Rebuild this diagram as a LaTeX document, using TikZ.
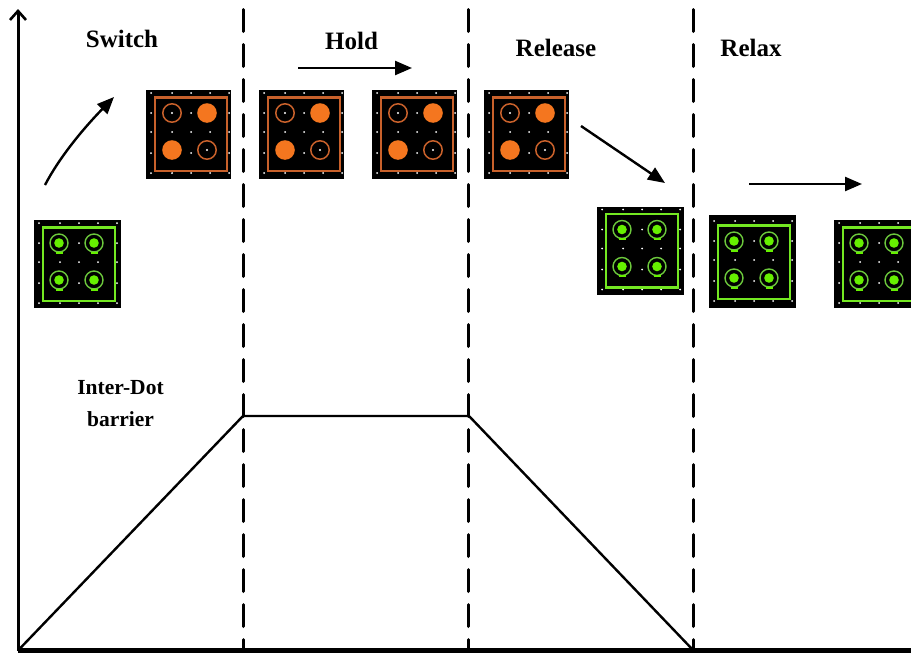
\documentclass[tikz,border=0pt]{standalone}
\usepackage{fontspec}
\setmainfont{Liberation Serif}
\usetikzlibrary{arrows.meta,calc}
\definecolor{dotorange}{HTML}{F4761F}
\definecolor{frameorange}{HTML}{C9612B}
\definecolor{dotgreen}{HTML}{66F000}
\definecolor{framegreen}{HTML}{74E822}
\definecolor{ringgreen}{HTML}{6CC83C}
\tikzset{
  axisline/.style={line width=3pt,black},
  baseline axis/.style={line width=4.6pt,black},
  barrier/.style={line width=2.4pt,black},
  divider/.style={line width=3pt,black,line cap=round,dash pattern=on 22pt off 13pt},
  flow/.style={line width=2.4pt,black,-{Triangle[length=17pt,width=14pt]}},
  title/.style={font=\bfseries\fontsize{25}{30}\selectfont,inner sep=0pt},
  smalltitle/.style={font=\bfseries\fontsize{21.5}{32}\selectfont,inner sep=0pt,align=center},
  chipbg/.style={fill=black,draw=none,inner sep=0pt,anchor=north west}
}
\newcommand{\chipbase}[6]{%
  \node[chipbg,minimum width=#4pt,minimum height=#5pt] (#1) at (#2,#3) {};
  \foreach \gx/\gy in {5/3,26/3,45/3,64/3,83/3, 5/23,45/23,83/23,
      5/42,26/42,45/42,64/42,83/42, 5/63,45/63,83/63, 5/83,26/83,45/83,64/83,83/83}{
    \fill[white] (#2+\gx,#3+\gy) circle (1pt);}
  \draw[#6,line width=2.4pt] (#2+9,#3+7.5) rectangle (#2+81,#3+81);
}
\newcommand{\openorange}[2]{\draw[frameorange,line width=1.5pt] (#1,#2) circle (9.2pt);
  \fill[white] (#1,#2) circle (1.2pt);}
\newcommand{\fullorange}[2]{\fill[dotorange] (#1,#2) circle (9.8pt);}
\newcommand{\greendot}[2]{\draw[ringgreen,line width=1.4pt] (#1,#2) circle (9pt);
  \fill[dotgreen] (#1,#2) circle (4.8pt);
  \draw[dotgreen,line width=2pt] (#1-3.5,#2+9.8) -- (#1+3.5,#2+9.8);}
\newcommand{\orangechip}[3]{%
  \chipbase{#1}{#2}{#3}{85}{89}{frameorange}
  \openorange{#2+26}{#3+23}\fullorange{#2+61}{#3+23}
  \fullorange{#2+26}{#3+60}\openorange{#2+61}{#3+60}}
\newcommand{\greenchip}[3]{%
  \chipbase{#1}{#2}{#3}{87}{88}{framegreen}
  \greendot{#2+25}{#3+23}\greendot{#2+60}{#3+23}
  \greendot{#2+25}{#3+60}\greendot{#2+60}{#3+60}}
\begin{document}
\begin{tikzpicture}[x=1pt,y=-1pt]
\useasboundingbox (0,0) rectangle (911,653);
\fill[white] (0,0) rectangle (911,653);
% axes
\coordinate (origin) at (18,650.5);
\coordinate (ytop) at (18,9);
\coordinate (xend) at (911,650.5);
\draw[axisline,-{Straight Barb[length=9pt,width=16pt,line width=2.6pt]}] (origin) -- (ytop);
\draw[baseline axis] (origin) -- (xend);
% barrier profile
\coordinate (b1) at (243,416);
\coordinate (b2) at (469,416);
\coordinate (b3) at (693,650);
\draw[barrier] (origin) -- (b1) -- (b2) -- (b3);
% dividers
\foreach \n/\x in {a/243,b/468,c/693}{
  \coordinate (top\n) at (\x,9.5);
  \coordinate (bot\n) at (\x,648);
  \draw[divider] (top\n) -- (bot\n);
}
% titles
\node[title] (switch) at (122,39) {Switch};
\node[title] (hold) at (351.5,41) {Hold};
\node[title] (release) at (556,48) {Release};
\node[title] (relax) at (751,48) {Relax};
\node[smalltitle] (interdot) at (120.5,404) {Inter-Dot\\barrier};
% flow arrows
\coordinate (s1) at (45,185);
\coordinate (s2) at (114,97);
\coordinate (h1) at (298,68);
\coordinate (h2) at (412,68);
\coordinate (r1) at (581,126);
\coordinate (r2) at (665,183);
\coordinate (x1) at (749,184);
\coordinate (x2) at (862,184);
\draw[flow] (s1) .. controls (58,160) and (80,132) .. (s2);
\draw[flow] (h1) -- (h2);
\draw[flow] (r1) -- (r2);
\draw[flow] (x1) -- (x2);
% chips
\greenchip{g1}{34}{220}
\orangechip{o1}{146}{90}
\orangechip{o2}{259}{90}
\orangechip{o3}{372}{90}
\orangechip{o4}{484}{90}
\greenchip{g2}{597}{206.5}
\fill[black] (709,215) rectangle (796,308);
\greenchip{g3}{709}{218}
\greenchip{g4}{834}{220}
\end{tikzpicture}
\end{document}
